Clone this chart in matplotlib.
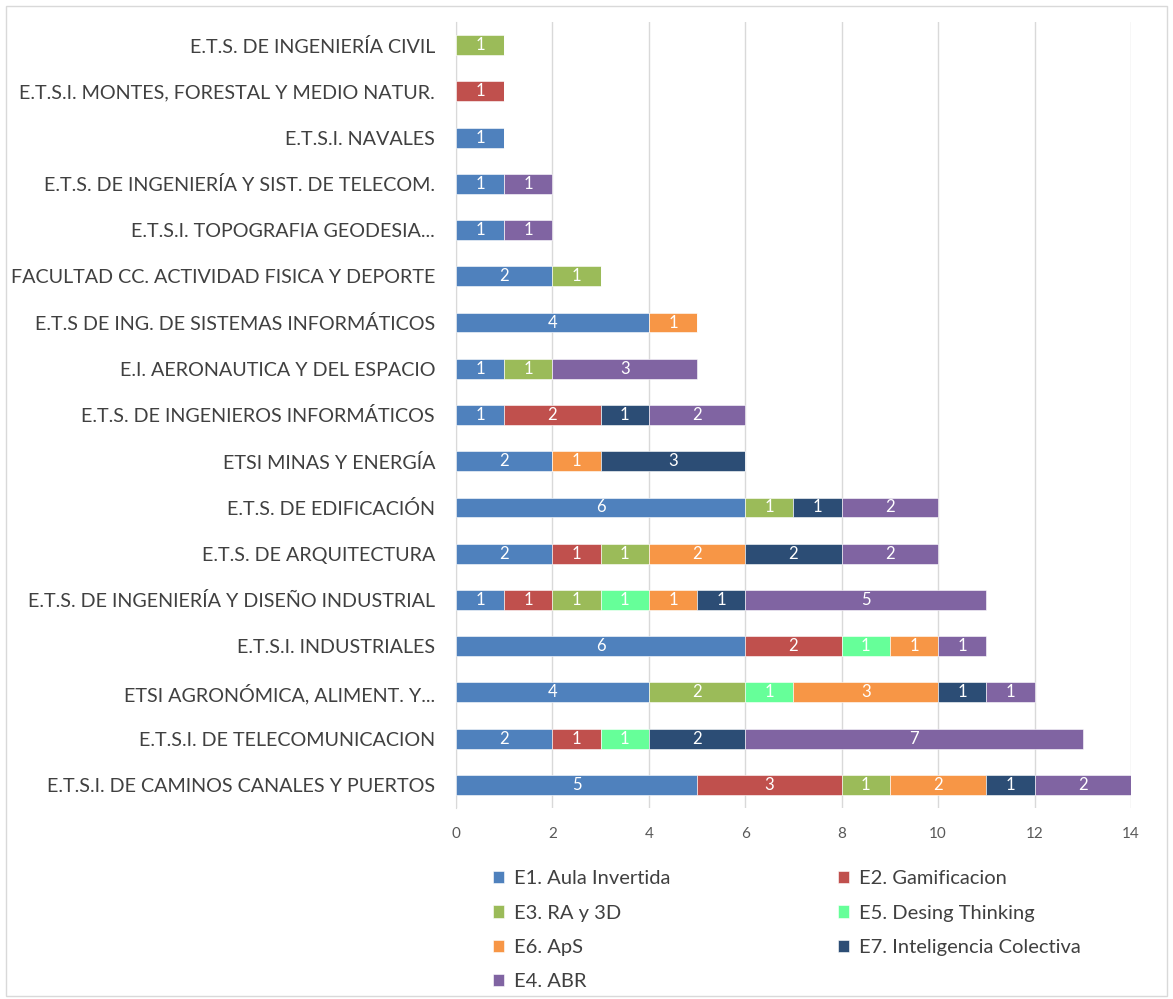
import matplotlib.pyplot as plt
import numpy as np

# categories from bottom to top
schools = [
    "E.T.S.I. DE CAMINOS CANALES Y PUERTOS",
    "E.T.S.I. DE TELECOMUNICACION",
    "ETSI AGRONÓMICA, ALIMENT. Y...",
    "E.T.S.I. INDUSTRIALES",
    "E.T.S. DE INGENIERÍA Y DISEÑO INDUSTRIAL",
    "E.T.S. DE ARQUITECTURA",
    "E.T.S. DE EDIFICACIÓN",
    "ETSI MINAS Y ENERGÍA",
    "E.T.S. DE INGENIEROS INFORMÁTICOS",
    "E.I. AERONAUTICA Y DEL ESPACIO",
    "E.T.S DE ING. DE SISTEMAS INFORMÁTICOS",
    "FACULTAD CC. ACTIVIDAD FISICA Y DEPORTE",
    "E.T.S.I. TOPOGRAFIA GEODESIA...",
    "E.T.S. DE INGENIERÍA Y SIST. DE TELECOM.",
    "E.T.S.I. NAVALES",
    "E.T.S.I. MONTES, FORESTAL Y MEDIO NATUR.",
    "E.T.S. DE INGENIERÍA CIVIL",
]

series_names = [
    "E1. Aula Invertida",
    "E2. Gamificacion",
    "E3. RA y 3D",
    "E5. Desing Thinking",
    "E6. ApS",
    "E7. Inteligencia Colectiva",
    "E4. ABR",
]

e1 = [5, 2, 4, 6, 1, 2, 6, 2, 1, 1, 4, 2, 1, 1, 1, 0, 0]
e2 = [3, 1, 0, 2, 1, 1, 0, 0, 2, 0, 0, 0, 0, 0, 0, 1, 0]
e3 = [1, 0, 2, 0, 1, 1, 1, 0, 0, 1, 0, 1, 0, 0, 0, 0, 1]
e5 = [0, 1, 1, 1, 1, 0, 0, 0, 0, 0, 0, 0, 0, 0, 0, 0, 0]
e6 = [2, 0, 3, 1, 1, 2, 0, 1, 0, 0, 1, 0, 0, 0, 0, 0, 0]
e7 = [1, 2, 1, 0, 1, 2, 1, 3, 1, 0, 0, 0, 0, 0, 0, 0, 0]
e4 = [2, 7, 1, 1, 5, 2, 2, 0, 2, 3, 0, 0, 1, 1, 0, 0, 0]

colors = ["#4F81BD", "#C0504D", "#9BBB59", "#66FF99", "#F79646", "#2C4D75", "#8064A2"]

plt.rcParams['font.family'] = ['Lato', 'DejaVu Sans']

fig = plt.figure(figsize=(11.73, 9.99), dpi=100)
ax = fig.add_axes([0.3887, 0.1912, 0.5755, 0.7868])

y = np.arange(len(schools))
left = np.zeros(len(schools))
handles = []
for name, vals, col in zip(series_names, [e1, e2, e3, e5, e6, e7, e4], colors):
    vals = np.array(vals, dtype=float)
    bars = ax.barh(y, vals, left=left, height=0.43, color=col,
                   edgecolor='white', linewidth=0.4, label=name, zorder=3)
    handles.append(bars)
    for yi, v, l in zip(y, vals, left):
        if v > 0:
            ax.text(l + v / 2, yi, f"{int(v)}", ha='center', va='center',
                    color='white', fontsize=12, zorder=4)
    left += vals

ax.set_xlim(0, 14)
ax.set_ylim(-0.5, len(schools) - 0.5)
ax.set_xticks(range(0, 15, 2))
ax.set_yticks(y)
ax.set_yticklabels(schools, fontsize=14.2, color='#404040')
ax.tick_params(axis='x', labelsize=11, colors='#595959', length=0, pad=14)
ax.tick_params(axis='y', length=0, pad=15)
ax.grid(axis='x', color='#D9D9D9', linewidth=1, zorder=0)
for s in ['top', 'right', 'bottom']:
    ax.spines[s].set_visible(False)
ax.spines['left'].set_color('#D9D9D9')

# legend is filled row-wise in the original, so order by column here
order = [0, 2, 4, 6, 1, 3, 5]
leg = fig.legend([handles[i] for i in order], [series_names[i] for i in order],
                 ncol=2, loc='upper left', bbox_to_anchor=(0.405, 0.147),
                 frameon=False, fontsize=14.5, handlelength=0.55, handleheight=0.55,
                 handletextpad=0.5, columnspacing=8.3, labelspacing=0.86,
                 labelcolor='#404040')

# thin frame around the whole chart
fig.patches.append(plt.Rectangle((0.005, 0.003), 0.99, 0.991, transform=fig.transFigure,
                                 fill=False, edgecolor='#D9D9D9', linewidth=1))

fig.savefig("out.png", dpi=100)
